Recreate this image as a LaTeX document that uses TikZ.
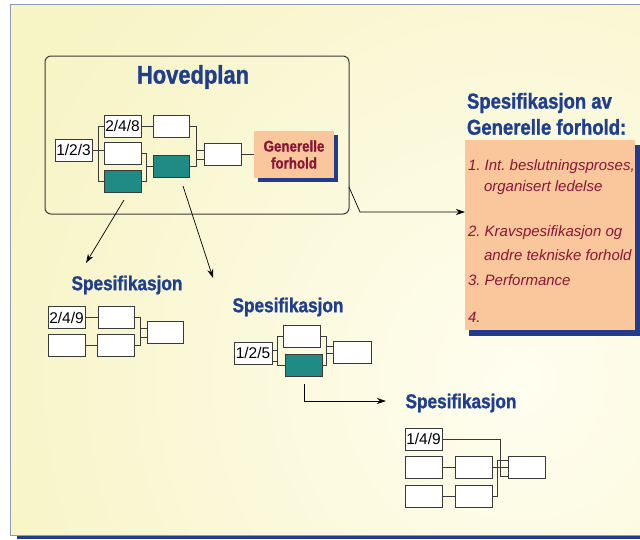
\documentclass[tikz,border=0pt]{standalone}
\usepackage{fontspec}
\setmainfont{Liberation Sans}
\newfontfamily\headfont{Liberation Sans}[FakeStretch=0.86, FakeBold=1.2]
\newfontfamily\listfont{Liberation Sans}
\usetikzlibrary{arrows.meta}

\definecolor{paper}{HTML}{F7F4C6}
\definecolor{paperlight}{HTML}{FFFEF0}
\definecolor{frameline}{HTML}{8E9AB4}
\definecolor{navy}{HTML}{233B8C}
\definecolor{headblue}{HTML}{1F3F8E}
\definecolor{peach}{HTML}{F9C79B}
\definecolor{wine}{HTML}{8A1537}
\definecolor{teal}{HTML}{1F8B84}
\definecolor{wire}{HTML}{3A3A3A}

\tikzset{
  every node/.style={inner sep=0pt, outer sep=0pt},
  cell/.style={draw=wire, fill=white, line width=0.8pt, minimum width=37pt,
    minimum height=22pt, font=\fontsize{15.5}{15.5}\selectfont},
  tealcell/.style={cell, fill=teal},
  wirepath/.style={draw=wire, line width=0.8pt},
  pointer/.style={draw=black, line width=0.7pt, -{Stealth[length=9pt,width=6pt]}},
  heading/.style={text=headblue, font=\headfont\bfseries\fontsize{20}{20}\selectfont},
  bigheading/.style={heading, anchor=west, font=\headfont\bfseries\fontsize{21.5}{21.5}\selectfont},
  itemtext/.style={anchor=west, text=wine, font=\listfont\itshape\fontsize{15}{15}\selectfont}
}

\begin{document}
\frenchspacing
\begin{tikzpicture}[x=1pt, y=-1pt]
  \useasboundingbox (0,0) rectangle (640,539);

  % page background with soft light centre
  \fill[navy] (17,533) rectangle (640,539);
  \fill[paper] (10,4) rectangle (640,535);
  \begin{scope}
    \clip (10,4) rectangle (640,535);
    \shade[inner color=paperlight, outer color=paper] (520,380) circle (560);
  \end{scope}
  \draw[frameline, line width=1pt] (640,4) -- (10,4) -- (10,535) -- (640,535);

  % ---------- Hovedplan ----------
  \node[draw=wire, line width=1pt, rounded corners=6pt, minimum width=304pt,
        minimum height=158pt] (hoved) at (197,135) {};
  \node[heading, font=\headfont\bfseries\fontsize{25.5}{25.5}\selectfont] (hovedtitle) at (193,77) {Hovedplan};

  \node[cell] (h123) at (73.5,150) {1/2/3};
  \node[cell] (h248) at (122.5,126) {2/4/8};
  \node[cell, minimum width=36pt] (hA) at (171,126) {};
  \node[cell] (hB) at (122.5,153.5) {};
  \node[tealcell] (hT1) at (122.5,181) {};
  \node[tealcell, minimum width=36pt] (hT2) at (171,166) {};
  \node[cell] (hR) at (222.5,154.5) {};

  \fill[navy] (257.5,135) rectangle (337.5,182);
  \node[fill=peach, minimum width=80pt, minimum height=47pt, align=center,
        text=wine, font=\headfont\bfseries\fontsize{15.5}{17}\selectfont]
        (gen) at (294,154.5) {Generelle\\forhold};

  \draw[wirepath] (h248.west) -- ++(-6,0) |- (hT1.west);
  \draw[wirepath] (h123.east) -- (h123.east -| hB.west);
  \draw[wirepath] (h248.east) -- (hA.west);
  \draw[wirepath] (hB.east) -- ++(5.5,0) |- (hT2.west);
  \draw[wirepath] (hT1.east) -- ++(5.5,0) |- (hT2.west);
  \draw[wirepath] (hA.east) -- ++(7,0) |- ([yshift=-5]hR.west);
  \draw[wirepath] (hT2.east) -- ++(7,0) |- ([yshift=4]hR.west);
  \draw[wirepath] (hR.east) -- (gen.west);

  % ---------- Spesifikasjon av generelle forhold ----------
  \node[bigheading] (spectitleA) at (467,103) {Spesifikasjon av};
  \node[bigheading] (spectitleB) at (467,127) {Generelle forhold:};
  \fill[navy] (469,145) rectangle (639.5,336);
  \node[fill=peach, minimum width=170pt, minimum height=190pt] (spec) at (550,235) {};
  \node[itemtext] (i1a) at (468,167) {1. Int. beslutningsproses,};
  \node[itemtext] (i1b) at (484,188) {organisert ledelse};
  \node[itemtext] (i2a) at (468,233) {2. Kravspesifikasjon og};
  \node[itemtext] (i2b) at (484,255) {andre tekniske forhold};
  \node[itemtext] (i3) at (468,280) {3. Performance};
  \node[itemtext] (i4) at (468,317) {4.};

  \coordinate (hovedR) at (349,187);
  \coordinate (bend) at (360,212);
  \draw[pointer] (hovedR) -- (bend) -- (bend -| spec.west);

  % ---------- Spesifikasjon 1 ----------
  \node[heading] (s1title) at (127,285) {Spesifikasjon};
  \node[cell] (s1a) at (66.5,317.5) {2/4/9};
  \node[cell, minimum width=36pt] (s1b) at (116,317.5) {};
  \node[cell, minimum width=36pt] (s1r) at (165,332) {};
  \node[cell] (s1c) at (66.5,345) {};
  \node[cell] (s1d) at (115.5,345) {};
  \draw[wirepath] (s1a.east) -- (s1b.west);
  \draw[wirepath] (s1c.east) -- (s1d.west);
  \draw[wirepath] (s1b.east) -- ++(6,0) |- ([yshift=-5]s1r.west);
  \draw[wirepath] (s1d.east) -- ++(6,0) |- ([yshift=4]s1r.west);

  \coordinate (from1) at (124,200);
  \coordinate (to1) at (86,263);
  \draw[pointer] (from1) -- (to1);

  % ---------- Spesifikasjon 2 ----------
  \node[heading] (s2title) at (288,307) {Spesifikasjon};
  \node[cell, minimum width=38pt] (s2a) at (253,353) {1/2/5};
  \node[cell] (s2b) at (301.5,336.5) {};
  \node[tealcell] (s2t) at (303.5,365.5) {};
  \node[cell, minimum width=38pt] (s2r) at (352,352) {};
  \draw[wirepath] ([yshift=-8]s2a.east) -- ++(5,0) |- (s2b.west);
  \draw[wirepath] ([yshift=3]s2a.east) -- ++(5,0) |- (s2t.west);
  \draw[wirepath] (s2b.east) -- ++(6.5,0) |- ([yshift=-1]s2r.west);
  \draw[wirepath] (s2t.east) -- ++(4.5,0) |- ([yshift=6]s2r.west);

  \coordinate (from2) at (183,186);
  \coordinate (to2) at (213,278);
  \draw[pointer] (from2) -- (to2);

  \coordinate (from3) at (304,384);
  \coordinate (turn3) at (304,401);
  \coordinate (to3) at (386,401);
  \draw[pointer] (from3) -- (turn3) -- (to3);

  % ---------- Spesifikasjon 3 ----------
  \node[heading] (s3title) at (461,403) {Spesifikasjon};
  \node[cell] (s3a) at (423.5,439) {1/4/9};
  \node[cell] (s3b) at (423.5,467.5) {};
  \node[cell] (s3c) at (473.5,467.5) {};
  \node[cell] (s3r) at (526.5,467.5) {};
  \node[cell] (s3d) at (423.5,496) {};
  \node[cell] (s3e) at (473.5,496) {};
  \draw[wirepath] (s3a.east) -| ([xshift=-8,yshift=-9]s3r.west) -- ([yshift=-9]s3r.west);
  \draw[wirepath] (s3b.east) -- (s3c.west);
  \draw[wirepath] (s3c.east) -- (s3r.west);
  \draw[wirepath] (s3d.east) -- (s3e.west);
  \draw[wirepath] (s3e.east) -- ++(5,0) |- ([yshift=7]s3r.west);
\end{tikzpicture}
\end{document}
